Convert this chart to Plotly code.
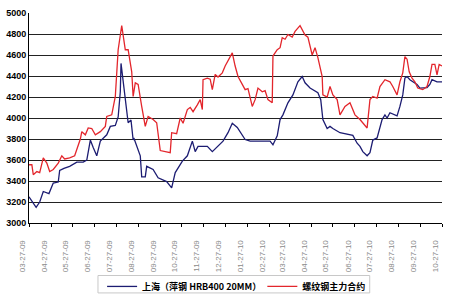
import pandas as pd
import plotly.graph_objects as go

start_date = "2009-03-27"
end_date = "2010-10-27"

# Shanghai spot (days since start, price)
spot_days = [0, 10, 15, 20, 28, 34, 41, 43, 49, 57, 67, 76, 81, 83, 86, 90, 95, 100, 104, 109,
             114, 121, 125, 128, 129, 132, 135, 139, 143, 146, 147, 151, 156, 158, 163, 165, 174,
             181, 193, 200, 205, 215, 222, 229, 233, 237, 250, 257, 264, 272, 279, 285, 292, 296,
             303, 310, 334, 338, 342, 348, 352, 356, 363, 370, 377, 383, 387, 394, 405, 409, 412,
             418, 422, 426, 436, 450, 454, 460, 464, 468, 474, 478, 482, 488, 492, 495, 499, 502,
             506, 516, 520, 524, 527, 530, 534, 544, 548, 558, 562, 565, 572, 579]
spot_vals = [3250, 3150, 3200, 3300, 3280, 3380, 3390, 3500, 3520, 3540, 3580, 3580, 3600, 3670,
             3790, 3720, 3640, 3780, 3810, 3840, 3920, 3930, 4010, 4250, 4520, 4350, 4200, 3955,
             3980, 3790, 3810, 3730, 3640, 3440, 3440, 3540, 3510, 3430, 3395, 3335, 3480, 3590,
             3640, 3780, 3680, 3730, 3730, 3680, 3730, 3780, 3860, 3950, 3910, 3870, 3795, 3780,
             3780, 3780, 3745, 3830, 3985, 4030, 4145, 4220, 4345, 4395, 4335, 4285, 4240, 4175,
             3985, 3900, 3920, 3900, 3860, 3840, 3835, 3760, 3730, 3680, 3640, 3670, 3790, 3810,
             3920, 3985, 4030, 4000, 4050, 4020, 4110, 4220, 4380, 4395, 4365, 4320, 4285, 4290,
             4320, 4365, 4345, 4345]

# Rebar main futures contract
fut_days = [0, 4, 6, 11, 15, 20, 25, 29, 34, 41, 46, 50, 57, 64, 67, 72, 74, 79, 83, 88, 93, 100,
            107, 109, 116, 121, 125, 130, 135, 139, 144, 146, 149, 153, 158, 160, 163, 167, 174,
            179, 184, 198, 200, 207, 212, 216, 222, 226, 230, 236, 240, 243, 244, 250, 254, 257,
            261, 265, 271, 275, 279, 285, 289, 293, 299, 303, 307, 313, 317, 321, 327, 331, 335,
            341, 342, 348, 352, 355, 359, 363, 369, 373, 380, 384, 387, 391, 397, 401, 405, 411,
            412, 418, 422, 426, 432, 436, 443, 450, 457, 464, 468, 474, 478, 482, 488, 492, 499,
            506, 510, 516, 520, 524, 527, 530, 533, 537, 541, 545, 552, 558, 562, 565, 569, 572,
            575, 579]
fut_vals = [3555, 3555, 3460, 3490, 3480, 3620, 3570, 3490, 3510, 3570, 3640, 3610, 3620, 3640,
            3700, 3800, 3870, 3840, 3905, 3900, 3840, 3870, 3920, 4015, 4030, 4205, 4650, 4880,
            4650, 4650, 4440, 4205, 4335, 4320, 4110, 4030, 3920, 4015, 3985, 3955, 3690, 3670,
            3860, 3850, 4000, 3950, 4080, 4100, 4060, 4125, 4175, 4080, 4365, 4380, 4370, 4270,
            4415, 4390, 4430, 4495, 4540, 4620, 4495, 4395, 4320, 4270, 4280, 4110, 4175, 4285,
            4250, 4260, 4175, 4145, 4590, 4650, 4670, 4765, 4750, 4795, 4770, 4825, 4880, 4825,
            4790, 4770, 4600, 4670, 4575, 4395, 4220, 4200, 4300, 4220, 4175, 4030, 4110, 4145,
            4030, 3985, 3950, 3905, 4175, 4205, 4190, 4300, 4365, 4345, 4300, 4220, 4345, 4430,
            4585, 4560, 4440, 4380, 4345, 4285, 4270, 4300, 4395, 4510, 4510, 4410, 4510, 4495]

spot_name = "上海（萍钢 HRB400 20MM）"
fut_name = "螺纹钢主力合约"

t0 = pd.Timestamp(start_date)
spot_x = [t0 + pd.Timedelta(days=d) for d in spot_days]
fut_x = [t0 + pd.Timedelta(days=d) for d in fut_days]

tick_dates = [t0 + pd.DateOffset(months=i) for i in range(20)]
tick_text = [d.strftime("%m-%d-%y") for d in tick_dates]

fig = go.Figure()
fig.add_trace(go.Scatter(x=spot_x, y=spot_vals, mode="lines", name=spot_name,
                         line=dict(color="#1c1c72", width=1.3), legend="legend"))
fig.add_trace(go.Scatter(x=fut_x, y=fut_vals, mode="lines", name=fut_name,
                         line=dict(color="#e3262c", width=1.3), legend="legend2"))

legend_font = dict(family="Noto Sans CJK SC", size=9, color="black", weight="bold")

fig.update_layout(
    width=450, height=300,
    margin=dict(l=29, r=8, t=13, b=77, autoexpand=False),
    paper_bgcolor="white", plot_bgcolor="white",
    showlegend=True,
    legend=dict(orientation="h", x=0.177, xanchor="left", y=-0.233, yanchor="top",
                borderwidth=0, bgcolor="rgba(0,0,0,0)", font=legend_font, itemwidth=30),
    legend2=dict(orientation="h", x=0.565, xanchor="left", y=-0.233, yanchor="top",
                 borderwidth=0, bgcolor="rgba(0,0,0,0)", font=legend_font, itemwidth=30),
    shapes=[dict(type="rect", xref="paper", yref="paper", x0=0.167, x1=0.825,
                 y0=-0.25, y1=-0.333, line=dict(color="#c8c8c8", width=1),
                 fillcolor="rgba(0,0,0,0)", layer="below")],
    xaxis=dict(type="date", range=[start_date, end_date],
               tickmode="array", tickvals=tick_dates, ticktext=tick_text,
               tickangle=-90, ticks="outside", ticklen=3, tickcolor="black",
               ticklabelshift=-7, ticklabelstandoff=10,
               tickfont=dict(family="Liberation Sans", size=8, color="#8a8a8a"),
               showgrid=False, showline=True, linecolor="black", linewidth=1,
               zeroline=False, automargin=False),
    yaxis=dict(range=[3000, 5000], dtick=200, showgrid=True, gridcolor="#222222",
               gridwidth=1, showline=True, linecolor="black", linewidth=1,
               ticks="", tickfont=dict(family="Liberation Sans", size=9, color="black",
                                       weight="bold"),
               zeroline=False, automargin=False),
)

fig.write_html("out.html")
